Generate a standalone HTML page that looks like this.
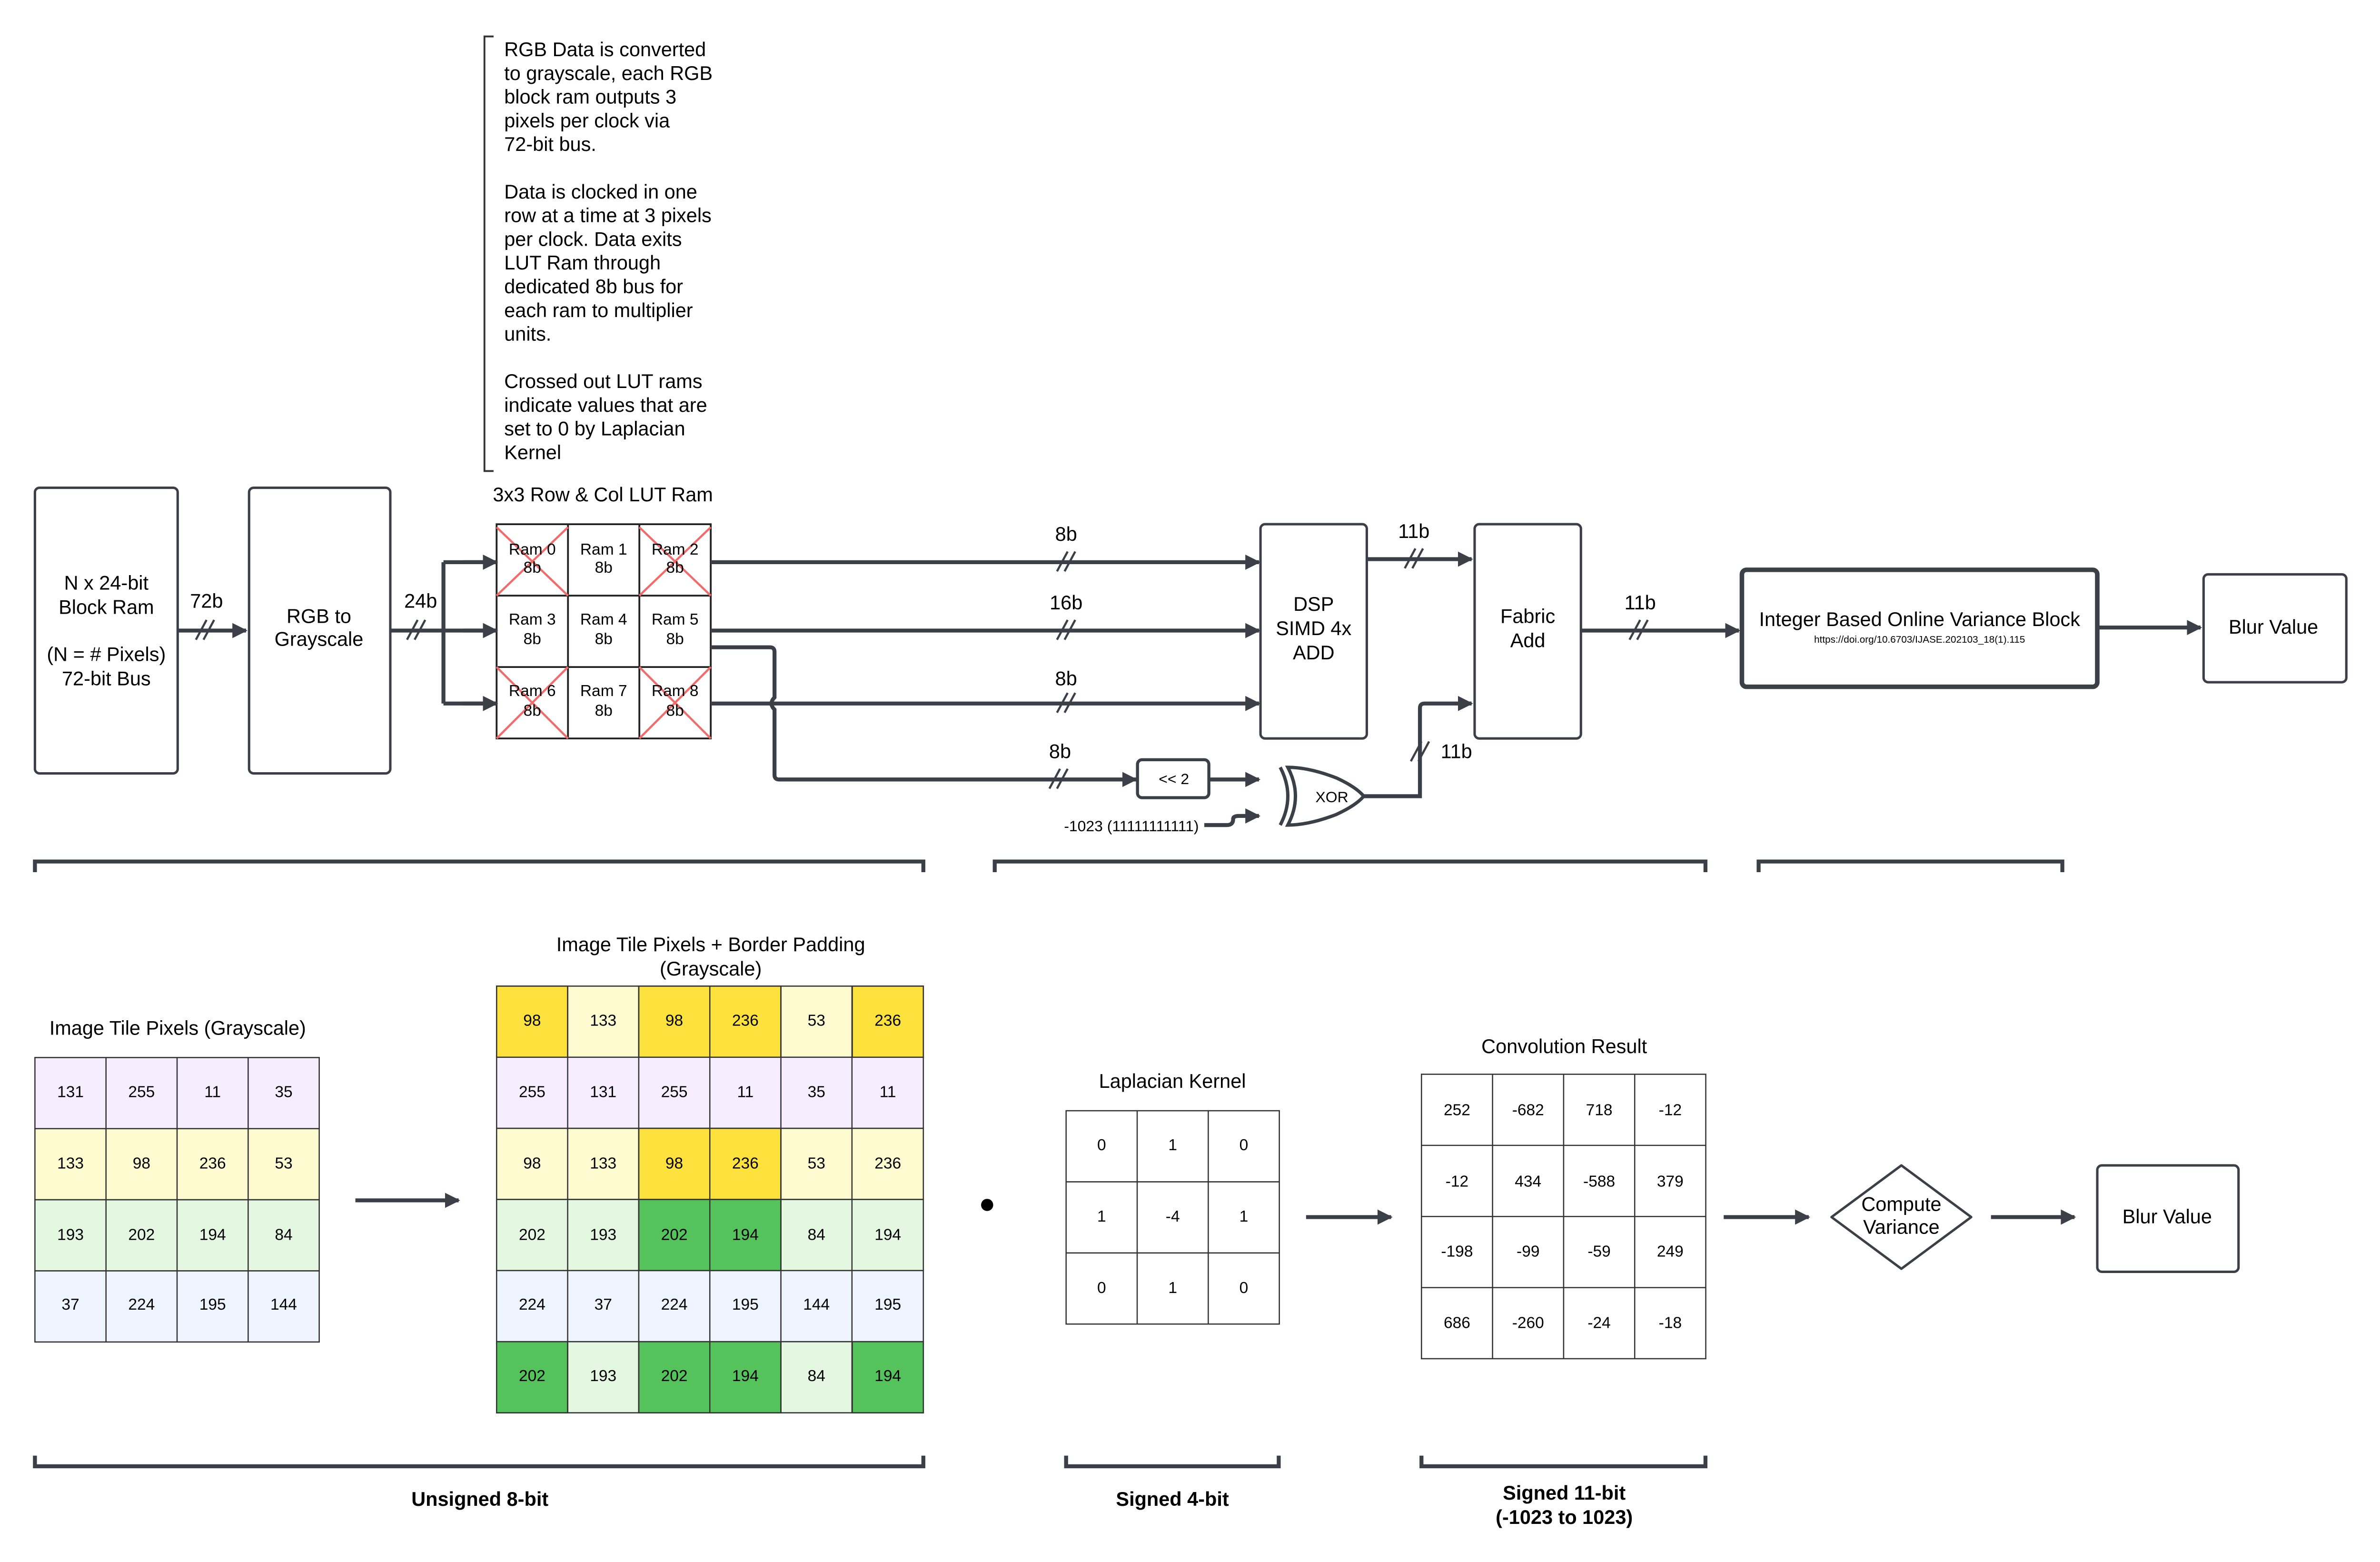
<!DOCTYPE html>
<html><head><meta charset="utf-8"><style>html,body{margin:0;padding:0;background:#fff}svg{display:block}</style></head><body>
<svg xmlns="http://www.w3.org/2000/svg" width="5025" height="3281" viewBox="0 0 1575 1028" preserveAspectRatio="none" font-family="Liberation Sans, Arial, sans-serif" fill="#000">
<defs>
<marker id="a" markerWidth="10" markerHeight="10" refX="9" refY="5" orient="auto" markerUnits="userSpaceOnUse"><path d="M0,0 L10,5 L0,10 z" fill="#3a3f48"/></marker>
</defs>
<rect width="1575" height="1028" fill="#fff"/>
<g stroke="#3a3f48" fill="none" stroke-width="1.6">
<rect x="23" y="321" width="94" height="188" rx="3"/>
<rect x="164" y="321" width="93" height="188" rx="3"/>
<rect x="830" y="345" width="70" height="141" rx="3"/>
<rect x="971" y="345" width="70" height="141" rx="3"/>
<rect x="1147" y="375" width="234" height="77" rx="3" stroke-width="3"/>
<rect x="1451" y="378" width="94" height="71" rx="3"/>
<rect x="749" y="500" width="47" height="25" rx="3" stroke-width="2"/>
<rect x="1381" y="767" width="93" height="70" rx="3"/>
<path d="M1252,767 L1298,801 L1252,835 L1206,801 Z" stroke-linejoin="round"/>
<path d="M327,345 H468 V486 H327 Z M374,345 V486 M421,345 V486 M327,392 H468 M327,439 H468" stroke="#222" stroke-width="1.2"/>
<path d="M327,347 L374,392 M374,347 L327,392 M421,347 L468,392 M468,347 L421,392 M327,439 L374,486 M374,439 L327,486 M421,439 L468,486 M468,439 L421,486" stroke="#f26b6b" stroke-width="1.4"/>
<path d="M325,24 H319 V310 H325" stroke="#333" stroke-width="1.2"/>
</g>
<g stroke="#3a3f48" fill="none" stroke-width="2.6">
<path d="M117,415 H162" marker-end="url(#a)"/>
<path d="M257,415 H292" />
<path d="M292,370 V463 M292,370 H327 M292,415 H327 M292,463 H327" />
<path d="M305,370 H327" marker-end="url(#a)"/>
<path d="M305,415 H327" marker-end="url(#a)"/>
<path d="M305,463 H327" marker-end="url(#a)"/>
<path d="M468,370 H829" marker-end="url(#a)"/>
<path d="M468,415 H829" marker-end="url(#a)"/>
<path d="M468,463 H829" marker-end="url(#a)"/>
<path d="M468,426 H507 Q510,426 510,429 V459 Q506,463 510,467 V510 Q510,513 513,513 H748" marker-end="url(#a)"/>
<path d="M796,513 H829" marker-end="url(#a)"/>
<path d="M793,543 H808 Q812,543 812,539 Q812,537 816,537 H829" marker-end="url(#a)"/>
<path d="M898,524 H935 V466 Q935,463 938,463 H969" marker-end="url(#a)"/>
<path d="M900,368 H969" marker-end="url(#a)"/>
<path d="M1041,415 H1145" marker-end="url(#a)"/>
<path d="M1381,413 H1449" marker-end="url(#a)"/>
<path d="M234,790 H302" marker-end="url(#a)"/>
<path d="M860,801 H916" marker-end="url(#a)"/>
<path d="M1135,801 H1191" marker-end="url(#a)"/>
<path d="M1311,801 H1366" marker-end="url(#a)"/>
<path d="M848,505 Q862,505 880,512 Q893,518 898,524 Q893,530 880,536 Q862,543 848,543 Q858,524 848,505 Z" stroke-width="2.2"/>
<path d="M843,505 Q853,524 843,543" stroke-width="2.2"/>
<path d="M23,574 V567 H608 V574 M655,574 V567 H1123 V574 M1158,574 V567 H1358 V574"/>
<path d="M23,958 V965 H608 V958 M702,958 V965 H842 V958 M936,958 V965 H1123 V958"/>
</g>
<g stroke="#3a3f48" stroke-width="1.4" fill="none">
<path d="M129,421 L136,408 M134,421 L141,408"/>
<path d="M268,421 L275,408 M273,421 L280,408"/>
<path d="M696,376 L703,363 M701,376 L708,363"/>
<path d="M696,421 L703,408 M701,421 L708,408"/>
<path d="M696,469 L703,456 M701,469 L708,456"/>
<path d="M691,519 L698,506 M696,519 L703,506"/>
<path d="M925,374 L932,361 M930,374 L937,361"/>
<path d="M1073,421 L1080,408 M1078,421 L1085,408"/>
<path d="M929,501 L936,488 M934,501 L941,488"/>
</g>
<circle cx="650" cy="793" r="4" fill="#000"/>
<g font-size="13" text-anchor="middle">
<text x="70" y="388">N x 24-bit</text><text x="70" y="404">Block Ram</text>
<text x="70" y="435">(N = # Pixels)</text><text x="70" y="451">72-bit Bus</text>
<text x="210" y="410">RGB to</text><text x="210" y="425">Grayscale</text>
<text x="136" y="400">72b</text><text x="277" y="400">24b</text>
<text x="397" y="330">3x3 Row &amp; Col LUT Ram</text>
<text x="702" y="356">8b</text><text x="702" y="401">16b</text><text x="702" y="451">8b</text><text x="698" y="499">8b</text>
<text x="931" y="354">11b</text><text x="1080" y="401">11b</text>
<text x="865" y="402">DSP</text><text x="865" y="418">SIMD 4x</text><text x="865" y="434">ADD</text>
<text x="1006" y="410">Fabric</text><text x="1006" y="426">Add</text>
<text x="1264" y="412">Integer Based Online Variance Block</text>
<text x="1264" y="423" font-size="6.5">https://doi.org/10.6703/IJASE.202103_18(1).115</text>
<text x="1497" y="417">Blur Value</text>
<text x="1427" y="805">Blur Value</text>
<text x="1252" y="797">Compute</text><text x="1252" y="812">Variance</text>
<text x="117" y="681">Image Tile Pixels (Grayscale)</text>
<text x="468" y="626">Image Tile Pixels + Border Padding</text><text x="468" y="642">(Grayscale)</text>
<text x="772" y="716">Laplacian Kernel</text>
<text x="1030" y="693">Convolution Result</text>
<g font-weight="bold"><text x="316" y="991">Unsigned 8-bit</text><text x="772" y="991">Signed 4-bit</text>
<text x="1030" y="987">Signed 11-bit</text><text x="1030" y="1003">(-1023 to 1023)</text></g>
</g>
<text x="959" y="499" font-size="13" text-anchor="middle">11b</text>
<text x="773" y="516" font-size="10" text-anchor="middle">&lt;&lt; 2</text>
<text x="877" y="528" font-size="10" text-anchor="middle">XOR</text>
<text x="745" y="547" font-size="10" text-anchor="middle">-1023 (11111111111)</text>
<g font-size="13">
<text x="332" y="37">RGB Data is converted</text><text x="332" y="52.6">to grayscale, each RGB</text><text x="332" y="68.2">block ram outputs 3</text><text x="332" y="83.8">pixels per clock via</text><text x="332" y="99.4">72-bit bus.</text>
<text x="332" y="130.6">Data is clocked in one</text><text x="332" y="146.2">row at a time at 3 pixels</text><text x="332" y="161.8">per clock. Data exits</text><text x="332" y="177.4">LUT Ram through</text><text x="332" y="193">dedicated 8b bus for</text><text x="332" y="208.6">each ram to multiplier</text><text x="332" y="224.2">units.</text>
<text x="332" y="255.4">Crossed out LUT rams</text><text x="332" y="271">indicate values that are</text><text x="332" y="286.6">set to 0 by Laplacian</text><text x="332" y="302.2">Kernel</text>
</g>
<g font-size="10.5" text-anchor="middle">
<text x="350.5" y="365">Ram 0</text><text x="350.5" y="377">8b</text>
<text x="397.5" y="365">Ram 1</text><text x="397.5" y="377">8b</text>
<text x="444.5" y="365">Ram 2</text><text x="444.5" y="377">8b</text>
<text x="350.5" y="411">Ram 3</text><text x="350.5" y="424">8b</text>
<text x="397.5" y="411">Ram 4</text><text x="397.5" y="424">8b</text>
<text x="444.5" y="411">Ram 5</text><text x="444.5" y="424">8b</text>
<text x="350.5" y="458">Ram 6</text><text x="350.5" y="471">8b</text>
<text x="397.5" y="458">Ram 7</text><text x="397.5" y="471">8b</text>
<text x="444.5" y="458">Ram 8</text><text x="444.5" y="471">8b</text>
</g>
<g stroke="#333" stroke-width="0.8">
<rect x="23" y="696" width="187.2" height="46.8" fill="#f6eefe"/>
<rect x="23" y="742.8" width="187.2" height="46.8" fill="#fdfbcf"/>
<rect x="23" y="789.6" width="187.2" height="46.8" fill="#e4f8e1"/>
<rect x="23" y="836.4" width="187.2" height="46.8" fill="#eef4fd"/>
<path d="M69.8,696 V883.2 M116.6,696 V883.2 M163.4,696 V883.2" fill="none"/>
</g>
<g font-size="10.5" text-anchor="middle">
<text x="46.4" y="722">131</text><text x="93.2" y="722">255</text><text x="140" y="722">11</text><text x="186.8" y="722">35</text>
<text x="46.4" y="769">133</text><text x="93.2" y="769">98</text><text x="140" y="769">236</text><text x="186.8" y="769">53</text>
<text x="46.4" y="816">193</text><text x="93.2" y="816">202</text><text x="140" y="816">194</text><text x="186.8" y="816">84</text>
<text x="46.4" y="862">37</text><text x="93.2" y="862">224</text><text x="140" y="862">195</text><text x="186.8" y="862">144</text>
</g>
<g stroke="#333" stroke-width="0.8">
<rect x="327" y="649" width="281" height="46.8" fill="#fdfbcf"/>
<rect x="327" y="695.8" width="281" height="46.8" fill="#f6eefe"/>
<rect x="327" y="742.6" width="281" height="46.8" fill="#fdfbcf"/>
<rect x="327" y="789.4" width="281" height="46.8" fill="#e4f8e1"/>
<rect x="327" y="836.2" width="281" height="46.8" fill="#eef4fd"/>
<rect x="327" y="883" width="281" height="46.8" fill="#e4f8e1"/>
<g fill="#fde23e">
<rect x="327" y="649" width="46.8" height="46.8"/><rect x="420.6" y="649" width="93.6" height="46.8"/><rect x="561.2" y="649" width="46.8" height="46.8"/>
<rect x="420.6" y="742.6" width="93.6" height="46.8"/>
</g>
<g fill="#55c35b">
<rect x="420.6" y="789.4" width="93.6" height="46.8"/>
<rect x="327" y="883" width="46.8" height="46.8"/><rect x="420.6" y="883" width="93.6" height="46.8"/><rect x="561.2" y="883" width="46.8" height="46.8"/>
</g>
<path d="M373.8,649 V930 M420.6,649 V930 M467.4,649 V930 M514.2,649 V930 M561,649 V930" fill="none"/>
</g>
<g font-size="10.5" text-anchor="middle">
<text x="350.4" y="675">98</text><text x="397.2" y="675">133</text><text x="444" y="675">98</text><text x="490.8" y="675">236</text><text x="537.6" y="675">53</text><text x="584.6" y="675">236</text>
<text x="350.4" y="722">255</text><text x="397.2" y="722">131</text><text x="444" y="722">255</text><text x="490.8" y="722">11</text><text x="537.6" y="722">35</text><text x="584.6" y="722">11</text>
<text x="350.4" y="769">98</text><text x="397.2" y="769">133</text><text x="444" y="769">98</text><text x="490.8" y="769">236</text><text x="537.6" y="769">53</text><text x="584.6" y="769">236</text>
<text x="350.4" y="816">202</text><text x="397.2" y="816">193</text><text x="444" y="816">202</text><text x="490.8" y="816">194</text><text x="537.6" y="816">84</text><text x="584.6" y="816">194</text>
<text x="350.4" y="862">224</text><text x="397.2" y="862">37</text><text x="444" y="862">224</text><text x="490.8" y="862">195</text><text x="537.6" y="862">144</text><text x="584.6" y="862">195</text>
<text x="350.4" y="909">202</text><text x="397.2" y="909">193</text><text x="444" y="909">202</text><text x="490.8" y="909">194</text><text x="537.6" y="909">84</text><text x="584.6" y="909">194</text>
</g>
<g stroke="#333" stroke-width="0.8" fill="none">
<rect x="702" y="731" width="140.4" height="140.4" fill="#fff"/>
<path d="M748.8,731 V871.4 M795.6,731 V871.4 M702,777.8 H842.4 M702,824.6 H842.4"/>
<rect x="936" y="707" width="187.2" height="187.2" fill="#fff"/>
<path d="M982.8,707 V894.2 M1029.6,707 V894.2 M1076.4,707 V894.2 M936,753.8 H1123.2 M936,800.6 H1123.2 M936,847.4 H1123.2"/>
</g>
<g font-size="10.5" text-anchor="middle">
<text x="725.4" y="757">0</text><text x="772.2" y="757">1</text><text x="819" y="757">0</text>
<text x="725.4" y="804">1</text><text x="772.2" y="804">-4</text><text x="819" y="804">1</text>
<text x="725.4" y="851">0</text><text x="772.2" y="851">1</text><text x="819" y="851">0</text>
<text x="959.4" y="734">252</text><text x="1006.2" y="734">-682</text><text x="1053" y="734">718</text><text x="1099.8" y="734">-12</text>
<text x="959.4" y="781">-12</text><text x="1006.2" y="781">434</text><text x="1053" y="781">-588</text><text x="1099.8" y="781">379</text>
<text x="959.4" y="827">-198</text><text x="1006.2" y="827">-99</text><text x="1053" y="827">-59</text><text x="1099.8" y="827">249</text>
<text x="959.4" y="874">686</text><text x="1006.2" y="874">-260</text><text x="1053" y="874">-24</text><text x="1099.8" y="874">-18</text>
</g>
</svg>
</body></html>
